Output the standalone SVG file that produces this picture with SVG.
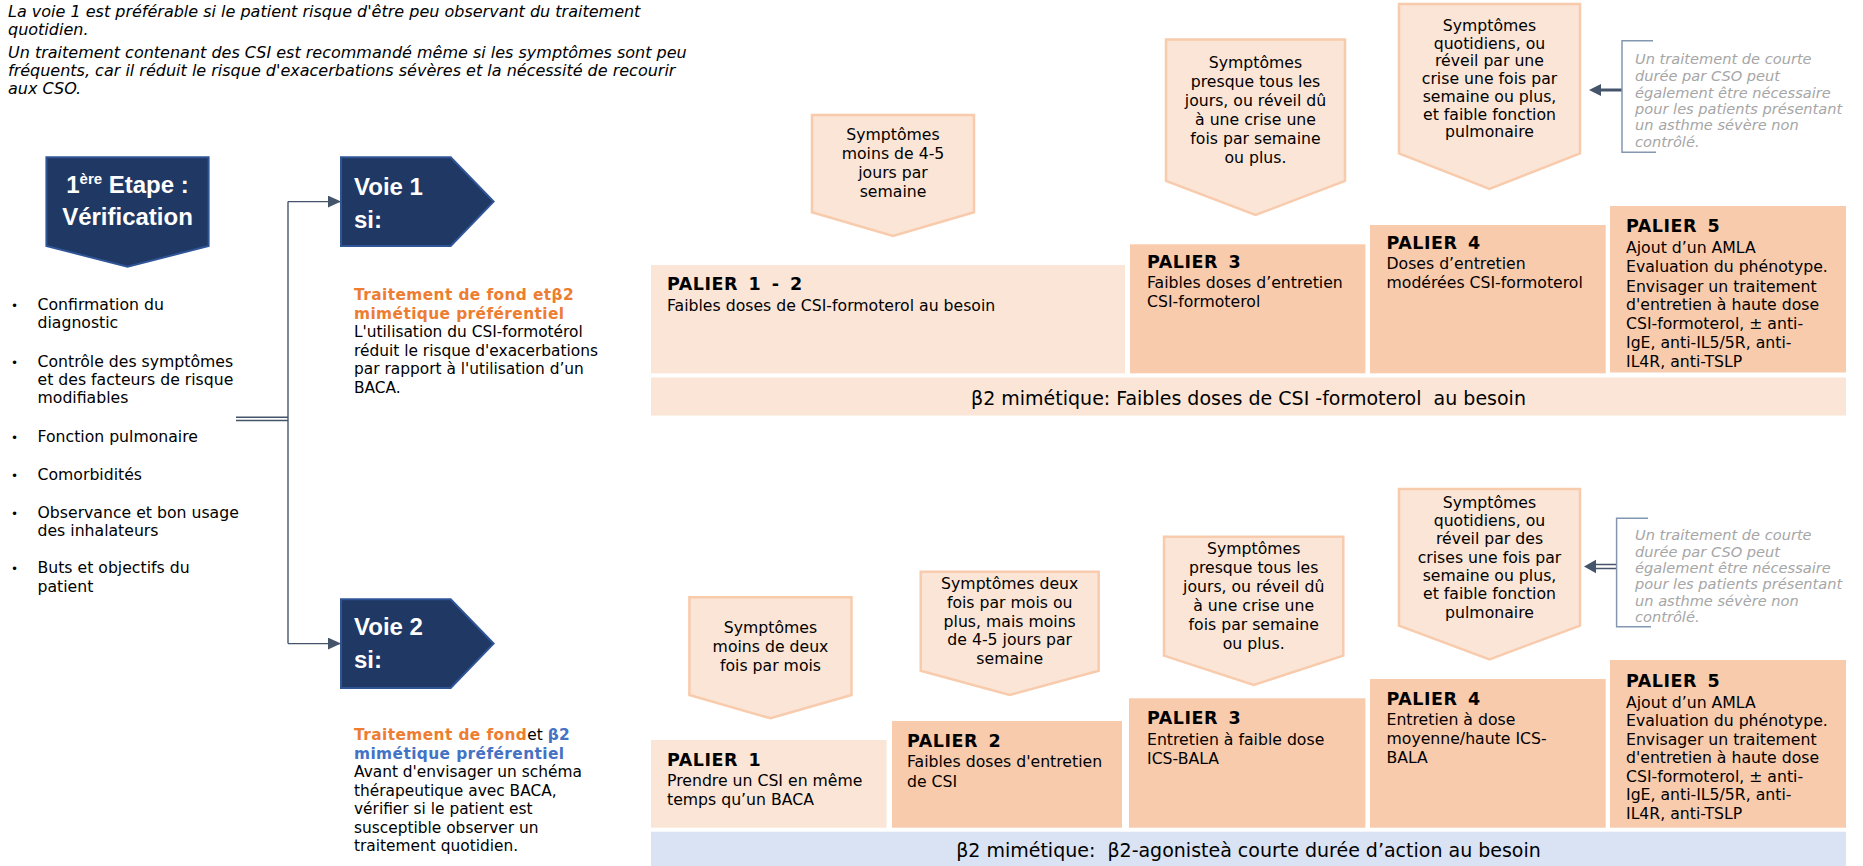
<svg xmlns="http://www.w3.org/2000/svg" width="1863" height="866" viewBox="0 0 1863 866">
<defs>
<style>
.t{font-family:"DejaVu Sans","Noto Sans",sans-serif;font-size:15.7px;fill:#000}
.it{font-style:italic}
.top{font-size:16px}
.nav{font-family:"Liberation Sans",Arial,sans-serif;font-weight:bold;font-size:24px;fill:#fff}
.navbox{fill:#203864;stroke:#2F5597;stroke-width:2}
.pent{fill:#FBE5D6;stroke:#F8CBAD;stroke-width:2.5}
.lite{fill:#FBE5D6}
.dark{fill:#F8CBAD}
.bandb{fill:#DAE3F3}
.pal{font-family:"DejaVu Sans",sans-serif;font-weight:bold;font-size:17.5px;letter-spacing:0.5px;word-spacing:4px;fill:#000}
.band{font-size:19px;text-anchor:middle}
.c{text-anchor:middle}
.side{font-size:14.6px;fill:#A6A6A6;font-style:italic}
.vt{font-size:15.4px}
.org{fill:#ED7D31;font-weight:bold;letter-spacing:0.4px}
.blu{fill:#4472C4;font-weight:bold;letter-spacing:0.4px}
.blk{fill:#000}
.con{fill:none;stroke:#44546A;stroke-width:1.4}
.brk{fill:none;stroke:#8497B0;stroke-width:1.5}
</style>
<marker id="ah" markerUnits="userSpaceOnUse" markerWidth="13" markerHeight="12" refX="13" refY="6" orient="auto">
<path d="M0,0 L13,6 L0,12 Z" fill="#44546A"/>
</marker>
</defs>
<rect width="1863" height="866" fill="#fff"/>

<g id="note-top" class="t it top">
<text x="8" y="17">La voie 1 est préférable si le patient risque d'être peu observant du traitement</text>
<text x="8" y="35">quotidien.</text>
<text x="8" y="58">Un traitement contenant des CSI est recommandé même si les symptômes sont peu</text>
<text x="8" y="76">fréquents, car il réduit le risque d'exacerbations sévères et la nécessité de recourir</text>
<text x="8" y="94">aux CSO.</text>
</g>

<g id="connectors">
<path class="con" d="M288,201.6 V643.6"/>
<path class="con" d="M288,201.6 H341" marker-end="url(#ah)"/>
<path class="con" d="M288,643.6 H341" marker-end="url(#ah)"/>
<path class="con" d="M236,417.3 H288 M236,420.5 H288"/>
<path d="M1622,90 H1599" stroke="#44546A" stroke-width="3" fill="none"/>
<path d="M1589,90 L1601,84 L1601,96 Z" fill="#44546A"/>
<path d="M1617,564.5 H1594 M1617,568.5 H1594" stroke="#44546A" stroke-width="1.6" fill="none"/>
<path d="M1584,566.5 L1596,559.8 L1596,573.2 Z" fill="#44546A"/>
</g>

<g id="etape">
<polygon class="navbox" points="46.4,157.3 208.6,157.3 208.6,246 127.5,266.7 46.4,246"/>
<text class="nav" x="127.5" y="193.3" text-anchor="middle">1<tspan font-size="15" dy="-9">ère</tspan><tspan dy="9"> Etape :</tspan></text>
<text class="nav" x="127.5" y="225" text-anchor="middle">Vérification</text>
</g>

<g id="bullets" class="t">
<text x="11" y="310" font-size="12">•</text>
<text x="37.5" y="310">Confirmation du</text>
<text x="37.5" y="328.3">diagnostic</text>
<text x="11" y="366.7" font-size="12">•</text>
<text x="37.5" y="366.7">Contrôle des symptômes</text>
<text x="37.5" y="385">et des facteurs de risque</text>
<text x="37.5" y="403.3">modifiables</text>
<text x="11" y="441.7" font-size="12">•</text>
<text x="37.5" y="441.7">Fonction pulmonaire</text>
<text x="11" y="480" font-size="12">•</text>
<text x="37.5" y="480">Comorbidités</text>
<text x="11" y="517.7" font-size="12">•</text>
<text x="37.5" y="517.7">Observance et bon usage</text>
<text x="37.5" y="536">des inhalateurs</text>
<text x="11" y="573" font-size="12">•</text>
<text x="37.5" y="573">Buts et objectifs du</text>
<text x="37.5" y="591.5">patient</text>
</g>

<g id="voie1">
<polygon class="navbox" points="341,157.3 450.7,157.3 493.6,201.6 450.7,246 341,246"/>
<text class="nav" x="354" y="195">Voie 1</text>
<text class="nav" x="354" y="227.7">si:</text>
</g>
<g id="voie1-text" class="t vt">
<text x="354" y="300" class="org">Traitement de fond etβ2</text>
<text x="354" y="318.6" class="org">mimétique préférentiel</text>
<text x="354" y="337.2">L'utilisation du CSI-formotérol</text>
<text x="354" y="355.8">réduit le risque d'exacerbations</text>
<text x="354" y="374.4">par rapport à l'utilisation d’un</text>
<text x="354" y="393">BACA.</text>
</g>

<g id="voie2">
<polygon class="navbox" points="341,599.3 450.7,599.3 493.6,643.6 450.7,688 341,688"/>
<text class="nav" x="354" y="635">Voie 2</text>
<text class="nav" x="354" y="668">si:</text>
</g>
<g id="voie2-text" class="t vt">
<text x="354" y="740"><tspan class="org">Traitement de fond</tspan><tspan class="blk">et </tspan><tspan class="blu">β2</tspan></text>
<text x="354" y="758.5" class="blu">mimétique préférentiel</text>
<text x="354" y="777">Avant d'envisager un schéma</text>
<text x="354" y="795.5">thérapeutique avec BACA,</text>
<text x="354" y="814">vérifier si le patient est</text>
<text x="354" y="832.5">susceptible observer un</text>
<text x="354" y="851">traitement quotidien.</text>
</g>

<!-- Upper row -->
<g id="sym-u1">
<polygon class="pent" points="812,115 974,115 974,212.3 893,236 812,212.3"/>
<text class="t c" x="893" y="140">Symptômes</text>
<text class="t c" x="893" y="159">moins de 4-5</text>
<text class="t c" x="893" y="178">jours par</text>
<text class="t c" x="893" y="197">semaine</text>
</g>
<g id="sym-u2">
<polygon class="pent" points="1166,39.5 1345,39.5 1345,181 1255.5,215 1166,181"/>
<text class="t c" x="1255.5" y="68">Symptômes</text>
<text class="t c" x="1255.5" y="87">presque tous les</text>
<text class="t c" x="1255.5" y="106">jours, ou réveil dû</text>
<text class="t c" x="1255.5" y="125">à une crise une</text>
<text class="t c" x="1255.5" y="144">fois par semaine</text>
<text class="t c" x="1255.5" y="163">ou plus.</text>
</g>
<g id="sym-u3">
<polygon class="pent" points="1399,4 1580,4 1580,153.3 1489.5,189 1399,153.3"/>
<text class="t c" x="1489.5" y="31">Symptômes</text>
<text class="t c" x="1489.5" y="48.7">quotidiens, ou</text>
<text class="t c" x="1489.5" y="66.4">réveil par une</text>
<text class="t c" x="1489.5" y="84.1">crise une fois par</text>
<text class="t c" x="1489.5" y="101.8">semaine ou plus,</text>
<text class="t c" x="1489.5" y="119.5">et faible fonction</text>
<text class="t c" x="1489.5" y="137.2">pulmonaire</text>
</g>
<g id="note-u">
<path class="brk" d="M1653,40.7 H1622 V152.3 H1656"/>
<text class="t side" x="1635" y="64">Un traitement de courte</text>
<text class="t side" x="1635" y="81">durée par CSO peut</text>
<text class="t side" x="1635" y="97.5">également être nécessaire</text>
<text class="t side" x="1635" y="113.5">pour les patients présentant</text>
<text class="t side" x="1635" y="130">un asthme sévère non</text>
<text class="t side" x="1635" y="146.7">contrôlé.</text>
</g>

<g id="palier-u12">
<rect class="lite" x="651" y="265" width="474" height="108.3"/>
<text class="pal" x="667" y="290">PALIER 1 - 2</text>
<text class="t" x="667" y="310.7">Faibles doses de CSI-formoterol au besoin</text>
</g>
<g id="palier-u3">
<rect class="dark" x="1130" y="244.3" width="235.4" height="129"/>
<text class="pal" x="1147" y="268.3">PALIER 3</text>
<text class="t" x="1147" y="288.3">Faibles doses d’entretien</text>
<text class="t" x="1147" y="307.3">CSI-formoterol</text>
</g>
<g id="palier-u4">
<rect class="dark" x="1370" y="225" width="235.7" height="148.3"/>
<text class="pal" x="1386.5" y="249.3">PALIER 4</text>
<text class="t" x="1386.5" y="269.3">Doses d’entretien</text>
<text class="t" x="1386.5" y="288.3">modérées CSI-formoterol</text>
</g>
<g id="palier-u5">
<rect class="dark" x="1610" y="206" width="236" height="166.5"/>
<text class="pal" x="1626" y="232.3">PALIER 5</text>
<text class="t" x="1626" y="253.3">Ajout d’un AMLA</text>
<text class="t" x="1626" y="272.3">Evaluation du phénotype.</text>
<text class="t" x="1626" y="291.5">Envisager un traitement</text>
<text class="t" x="1626" y="310.3">d'entretien à haute dose</text>
<text class="t" x="1626" y="329.3">CSI-formoterol, ± anti-</text>
<text class="t" x="1626" y="348.3">IgE, anti-IL5/5R, anti-</text>
<text class="t" x="1626" y="366.7">IL4R, anti-TSLP</text>
</g>
<g id="band-u">
<rect class="lite" x="651" y="377.5" width="1195" height="38"/>
<text class="t band" x="1248.5" y="405" xml:space="preserve">β2 mimétique: Faibles doses de CSI -formoterol  au besoin</text>
</g>

<!-- Lower row -->
<g id="sym-l1">
<polygon class="pent" points="689.4,597.3 851.5,597.3 851.5,695 770.5,718.3 689.4,695"/>
<text class="t c" x="770.5" y="633.3">Symptômes</text>
<text class="t c" x="770.5" y="652.3">moins de deux</text>
<text class="t c" x="770.5" y="670.7">fois par mois</text>
</g>
<g id="sym-l2">
<polygon class="pent" points="920.7,571.7 1098.7,571.7 1098.7,670.7 1009.7,695 920.7,670.7"/>
<text class="t c" x="1009.7" y="589.3">Symptômes deux</text>
<text class="t c" x="1009.7" y="608">fois par mois ou</text>
<text class="t c" x="1009.7" y="626.7">plus, mais moins</text>
<text class="t c" x="1009.7" y="645.4">de 4-5 jours par</text>
<text class="t c" x="1009.7" y="664">semaine</text>
</g>
<g id="sym-l3">
<polygon class="pent" points="1164,536.7 1343.3,536.7 1343.3,655.7 1253.7,685 1164,655.7"/>
<text class="t c" x="1253.7" y="554.3">Symptômes</text>
<text class="t c" x="1253.7" y="573.2">presque tous les</text>
<text class="t c" x="1253.7" y="592">jours, ou réveil dû</text>
<text class="t c" x="1253.7" y="610.9">à une crise une</text>
<text class="t c" x="1253.7" y="629.7">fois par semaine</text>
<text class="t c" x="1253.7" y="648.5">ou plus.</text>
</g>
<g id="sym-l4">
<polygon class="pent" points="1399,489 1580,489 1580,625.7 1489.5,659.3 1399,625.7"/>
<text class="t c" x="1489.5" y="507.7">Symptômes</text>
<text class="t c" x="1489.5" y="526">quotidiens, ou</text>
<text class="t c" x="1489.5" y="544.3">réveil par des</text>
<text class="t c" x="1489.5" y="562.6">crises une fois par</text>
<text class="t c" x="1489.5" y="580.9">semaine ou plus,</text>
<text class="t c" x="1489.5" y="599.2">et faible fonction</text>
<text class="t c" x="1489.5" y="617.5">pulmonaire</text>
</g>
<g id="note-l">
<path class="brk" d="M1648,518.3 H1616.6 V626.7 H1651"/>
<text class="t side" x="1635" y="540">Un traitement de courte</text>
<text class="t side" x="1635" y="556.7">durée par CSO peut</text>
<text class="t side" x="1635" y="572.8">également être nécessaire</text>
<text class="t side" x="1635" y="589.3">pour les patients présentant</text>
<text class="t side" x="1635" y="605.7">un asthme sévère non</text>
<text class="t side" x="1635" y="622.3">contrôlé.</text>
</g>

<g id="palier-l1">
<rect class="lite" x="651" y="740" width="235.5" height="87.7"/>
<text class="pal" x="667" y="766">PALIER 1</text>
<text class="t" x="667" y="786">Prendre un CSI en même</text>
<text class="t" x="667" y="805">temps qu’un BACA</text>
</g>
<g id="palier-l2">
<rect class="dark" x="892" y="721" width="230" height="106.7"/>
<text class="pal" x="907" y="746.7">PALIER 2</text>
<text class="t" x="907" y="767.3">Faibles doses d'entretien</text>
<text class="t" x="907" y="786.7">de CSI</text>
</g>
<g id="palier-l3">
<rect class="dark" x="1129" y="698.3" width="236.4" height="129.4"/>
<text class="pal" x="1147" y="724.3">PALIER 3</text>
<text class="t" x="1147" y="745">Entretien à faible dose</text>
<text class="t" x="1147" y="763.5">ICS-BALA</text>
</g>
<g id="palier-l4">
<rect class="dark" x="1370" y="679" width="235.7" height="148.7"/>
<text class="pal" x="1386.5" y="705">PALIER 4</text>
<text class="t" x="1386.5" y="725">Entretien à dose</text>
<text class="t" x="1386.5" y="744.3">moyenne/haute ICS-</text>
<text class="t" x="1386.5" y="763.3">BALA</text>
</g>
<g id="palier-l5">
<rect class="dark" x="1610" y="660" width="236" height="167.7"/>
<text class="pal" x="1626" y="686.7">PALIER 5</text>
<text class="t" x="1626" y="707.8">Ajout d’un AMLA</text>
<text class="t" x="1626" y="726.2">Evaluation du phénotype.</text>
<text class="t" x="1626" y="744.6">Envisager un traitement</text>
<text class="t" x="1626" y="763">d'entretien à haute dose</text>
<text class="t" x="1626" y="781.6">CSI-formoterol, ± anti-</text>
<text class="t" x="1626" y="800.3">IgE, anti-IL5/5R, anti-</text>
<text class="t" x="1626" y="819">IL4R, anti-TSLP</text>
</g>
<g id="band-l">
<rect class="bandb" x="651" y="831.7" width="1195" height="34.3"/>
<text class="t band" x="1248.5" y="857" xml:space="preserve">β2 mimétique:  β2-agonisteà courte durée d’action au besoin</text>
</g>
</svg>
